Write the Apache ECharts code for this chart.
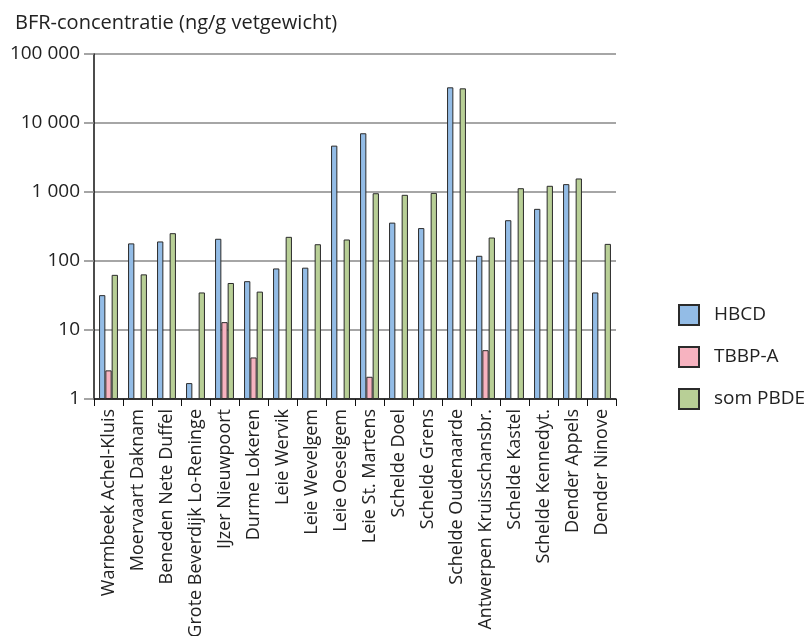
<!DOCTYPE html>
<html>
<head>
<meta charset="utf-8">
<script src="https://cdn.jsdelivr.net/npm/echarts@6/dist/echarts.min.js"></script>
<style>
  html, body { margin: 0; padding: 0; background: #fff; }
  #chart { width: 810px; height: 636px; }
</style>
</head>
<body>
<div id="chart"></div>
<script>
const categories = [
  'Warmbeek Achel-Kluis', 'Moervaart Daknam', 'Beneden Nete Duffel', 'Grote Beverdijk Lo-Reninge',
  'IJzer Nieuwpoort', 'Durme Lokeren', 'Leie Wervik', 'Leie Wevelgem', 'Leie Oeselgem',
  'Leie St. Martens', 'Schelde Doel', 'Schelde Grens', 'Schelde Oudenaarde', 'Antwerpen Kruisschansbr.',
  'Schelde Kastel', 'Schelde Kennedyt.', 'Dender Appels', 'Dender Ninove'
];
const hbcd = [32, 180, 192, 1.7, 210, 51, 78, 80, 4700, 7100, 360, 300, 32900, 119, 390, 570, 1300, 35];
const tbbpa = [2.6, null, null, null, 13, 4.0, null, null, null, 2.1, null, null, null, 5.1, null, null, null, null];
const pbde = [63, 64, 253, 35, 48, 36, 224, 175, 205, 960, 910, 970, 31800, 219, 1135, 1230, 1570, 177];
const yTicks = [1, 10, 100, 1000, 10000, 100000];

const font = '"Open Sans", "Noto Sans", sans-serif';
const chart = echarts.init(document.getElementById('chart'));

function bar(name, data, color) {
  return {
    name: name,
    type: 'bar',
    data: data,
    barWidth: 6.3,
    barGap: '0%',
    itemStyle: { color: color, borderColor: '#2b2b2b', borderWidth: 1 }
  };
}

chart.setOption({
  animation: false,
  textStyle: { fontFamily: font },
  title: {
    text: 'BFR-concentratie (ng/g vetgewicht)',
    left: 10, top: 8,
    textStyle: { fontFamily: font, fontSize: 20, fontWeight: 'normal', color: '#222' }
  },
  legend: {
    orient: 'vertical',
    left: 673, top: 299,
    itemWidth: 20, itemHeight: 20,
    itemGap: 20,
    icon: 'rect',
    textStyle: { fontFamily: font, fontSize: 19, color: '#222', padding: [0, 0, 0, 10] },
    data: ['HBCD', 'TBBP-A', 'som PBDE']
  },
  grid: { left: 94, right: 194, top: 54, bottom: 237, outerBoundsMode: 'none' },
  xAxis: {
    type: 'category',
    data: categories,
    axisLine: { lineStyle: { color: '#111', width: 1.5 } },
    axisTick: { show: true, length: 7, lineStyle: { color: '#111' } },
    axisLabel: {
      rotate: 90, interval: 0, margin: 10,
      fontFamily: font, fontSize: 18, color: '#222'
    }
  },
  yAxis: {
    type: 'log',
    logBase: 10,
    min: yTicks[0],
    max: yTicks[yTicks.length - 1],
    axisLine: { show: true, lineStyle: { color: '#111', width: 1.5 } },
    axisTick: { show: true, length: 10, lineStyle: { color: '#888', width: 1.5 } },
    splitLine: { show: true, lineStyle: { color: '#888', width: 1.5 } },
    axisLabel: {
      margin: 14,
      fontFamily: font, fontSize: 19, color: '#222',
      formatter: function (v) {
        return String(Math.round(v)).replace(/\B(?=(\d{3})+(?!\d))/g, ' ');
      }
    }
  },
  series: [
    bar('HBCD', hbcd, '#93bce6'),
    bar('TBBP-A', tbbpa, '#f7b3c0'),
    bar('som PBDE', pbde, '#b8cf96')
  ]
});
</script>
</body>
</html>
